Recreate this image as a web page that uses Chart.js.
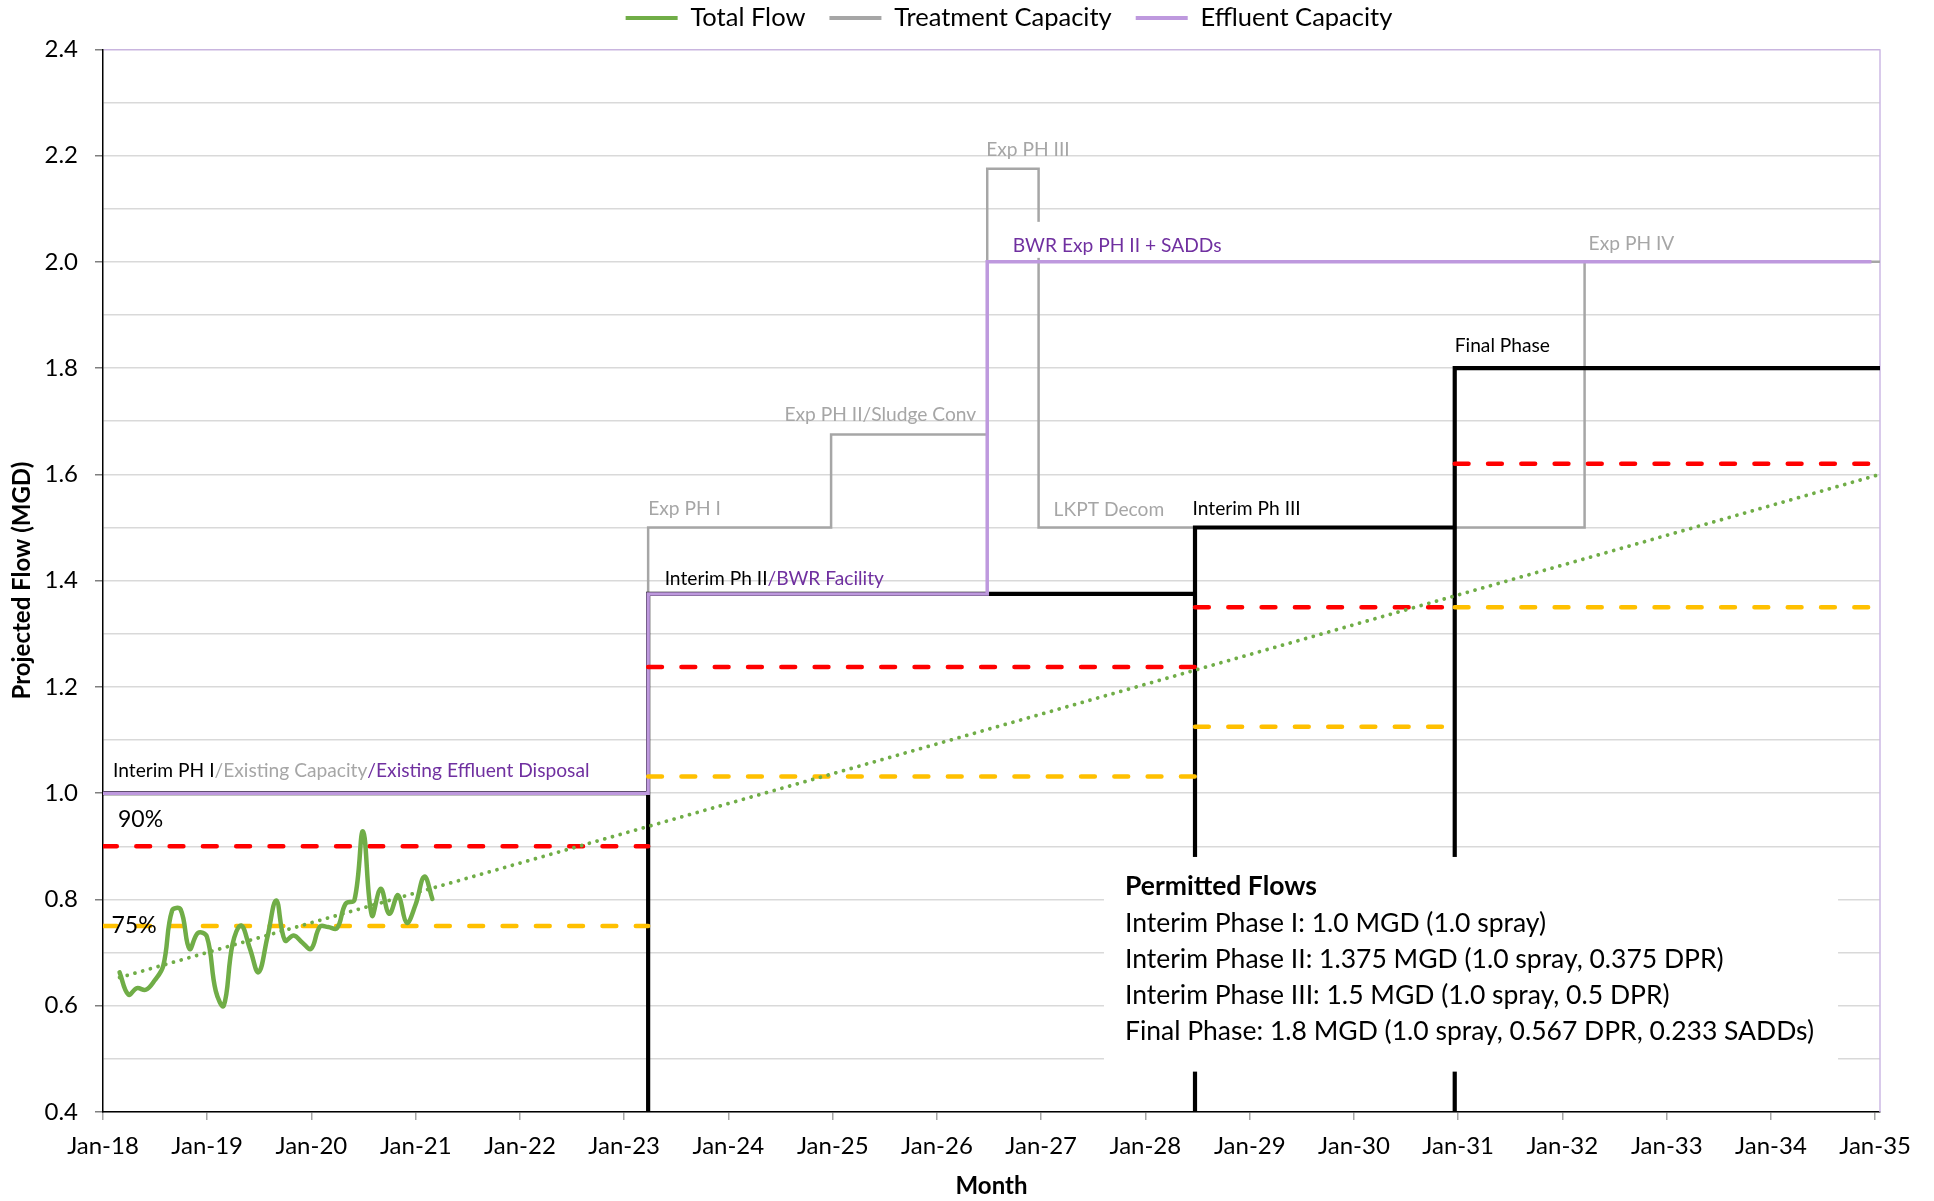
<!DOCTYPE html>
<html lang="en">
<head>
<meta charset="utf-8">
<title>Projected Flow (MGD)</title>
<script src="https://cdn.jsdelivr.net/npm/chart.js@4.4.1/dist/chart.umd.min.js"></script>
<style>
  html, body { margin: 0; padding: 0; background: #ffffff; }
  #frame { width: 1934px; height: 1201px; }
  canvas { display: block; }
</style>
</head>
<body>
<div id="frame"><canvas id="flowChart" width="1934" height="1201"></canvas></div>
<script>
// ---------------- Data ----------------

// Monthly total flow (MGD), month-end readings
const flowDates = [
  '2018-02-28', '2018-03-31', '2018-04-30', '2018-05-31', '2018-06-30', '2018-07-31',
  '2018-08-31', '2018-09-30', '2018-10-31', '2018-11-30', '2018-12-31',
  '2019-01-31', '2019-02-28', '2019-03-31', '2019-04-30', '2019-05-31', '2019-06-30',
  '2019-07-31', '2019-08-31', '2019-09-30', '2019-10-31', '2019-11-30', '2019-12-31',
  '2020-01-31', '2020-02-29', '2020-03-31', '2020-04-30', '2020-05-31', '2020-06-30',
  '2020-07-31', '2020-08-31', '2020-09-30', '2020-10-31', '2020-11-30', '2020-12-31',
  '2021-01-31', '2021-02-28'
];
const flowMGD = [
  0.663, 0.621, 0.633, 0.630, 0.647, 0.675,
  0.779, 0.781, 0.707, 0.737, 0.730,
  0.628, 0.600, 0.716, 0.751, 0.707, 0.663,
  0.729, 0.798, 0.723, 0.732, 0.719, 0.707,
  0.749, 0.748, 0.746, 0.792, 0.799, 0.928,
  0.770, 0.820, 0.773, 0.808, 0.756, 0.790,
  0.843, 0.801
];

// Linear trend of total flow, carried to the end of the planning horizon
const trendDates = ['2018-02-28', '2035-01-18'];
const trendMGD = [0.653, 1.600];

// Permit phases: phase boundaries and permitted flow per phase
const phaseDates = ['2018-01-01', '2023-03-26', '2028-06-23', '2030-12-20', '2035-01-18'];
const permittedMGD = [1.0, 1.375, 1.5, 1.8];
const ninetyPctMGD = [0.9, 1.2375, 1.35, 1.62];
const seventyFivePctMGD = [0.75, 1.03125, 1.125, 1.35];

// Treatment capacity: level holds from each date to the next
const treatmentDates = ['2018-01-01', '2023-03-26', '2024-12-26', '2026-06-26', '2026-12-23', '2032-03-19', '2035-01-18'];
const treatmentMGD = [1.0, 1.5, 1.675, 2.175, 1.5, 2.0, 2.0];

// Effluent disposal capacity
const effluentDates = ['2018-01-01', '2023-03-26', '2026-06-26', '2034-12-19'];
const effluentMGD = [1.0, 1.375, 2.0, 2.0];

// Axis
const xTickLabels = ['Jan-18', 'Jan-19', 'Jan-20', 'Jan-21', 'Jan-22', 'Jan-23', 'Jan-24', 'Jan-25', 'Jan-26',
                     'Jan-27', 'Jan-28', 'Jan-29', 'Jan-30', 'Jan-31', 'Jan-32', 'Jan-33', 'Jan-34', 'Jan-35'];
const axisStart = '2018-01-01';
const axisEnd = '2035-01-18';
const yMin = 0.4;
const yMax = 2.4;

// ---------------- Helpers ----------------
const DAY_MS = 86400000;
const BASE_MS = Date.UTC(2018, 0, 1);
function dayOf(iso) {
  const [yy, mm, dd] = iso.split('-').map(Number);
  return (Date.UTC(yy, mm - 1, dd) - BASE_MS) / DAY_MS;
}
function tickDay(label) {
  return dayOf('20' + label.slice(4) + '-01-01');
}
const pairs = (dates, values) => dates.map((d, i) => ({ x: dayOf(d), y: values[i] }));

// Permitted flow: each new phase rises from the axis floor
function permittedPath() {
  const pts = [{ x: dayOf(phaseDates[0]), y: permittedMGD[0] }];
  for (let i = 1; i < permittedMGD.length; i++) {
    pts.push({ x: dayOf(phaseDates[i]), y: yMin });
    pts.push({ x: dayOf(phaseDates[i]), y: permittedMGD[i] });
  }
  pts.push({ x: dayOf(phaseDates[phaseDates.length - 1]), y: permittedMGD[permittedMGD.length - 1] });
  return pts;
}
// Percent-of-permit bands: one separate segment per phase
function bandPath(levels) {
  const pts = [];
  levels.forEach((v, i) => {
    pts.push({ x: dayOf(phaseDates[i]), y: v }, { x: dayOf(phaseDates[i + 1]), y: v });
    if (i < levels.length - 1) pts.push({ x: dayOf(phaseDates[i + 1]), y: null });
  });
  return pts;
}

// ---------------- Styling ----------------
const FONT = "Lato, 'Open Sans', 'DejaVu Sans', sans-serif";
const INK = '#000000';
const GRAY = '#a6a6a6';
const LILAC = '#be99de';
const PURPLE_TEXT = '#7030a0';
const GREEN = '#70ad47';

// Labels, text box and plot frame drawn on top of the series
const phaseNotes = {
  id: 'phaseNotes',
  beforeDatasetsDraw(chart) {
    const { ctx, chartArea: a } = chart;
    ctx.save();
    ctx.strokeStyle = '#cdb8e4';
    ctx.lineWidth = 1.5;
    ctx.beginPath();
    ctx.moveTo(a.right, a.top);
    ctx.lineTo(a.right, a.bottom);
    ctx.stroke();
    ctx.restore();
  },
  afterDatasetsDraw(chart, args, opts) {
    const { ctx, scales: { x, y } } = chart;
    ctx.save();
    ctx.textBaseline = 'middle';
    ctx.textAlign = 'left';

    const b = opts.box;
    const bx0 = x.getPixelForValue(dayOf(b.from));
    const bx1 = x.getPixelForValue(dayOf(b.to));
    const by0 = y.getPixelForValue(b.top);
    const by1 = y.getPixelForValue(b.bottom);
    ctx.fillStyle = '#ffffff';
    ctx.fillRect(bx0, by0, bx1 - bx0, by1 - by0);
    b.lines.forEach((ln, i) => {
      ctx.font = (i === 0 ? 'bold ' : '') + b.size + 'px ' + FONT;
      ctx.fillStyle = INK;
      ctx.fillText(ln, bx0 + b.padX, by0 + b.firstLine + i * b.lineGap);
    });

    opts.labels.forEach(lb => {
      ctx.font = (lb.size || opts.size) + 'px ' + FONT;
      const px = x.getPixelForValue(dayOf(lb.at)) + lb.dx;
      const py = y.getPixelForValue(lb.level) + lb.dy;
      const widths = lb.parts.map(p => ctx.measureText(p[0]).width);
      const total = widths.reduce((s, w) => s + w, 0);
      let cx = lb.align === 'right' ? px - total : px;
      if (lb.backdrop) {
        ctx.fillStyle = '#ffffff';
        ctx.fillRect(cx - 5, py - 24, total + 10, 36);
      }
      lb.parts.forEach((p, i) => {
        ctx.fillStyle = p[1];
        ctx.fillText(p[0], cx, py);
        cx += widths[i];
      });
    });
    ctx.restore();
  }
};

// Moves the legend row to its final spot after layout
const legendNudge = {
  id: 'legendNudge',
  afterLayout(chart, args, opts) {
    const lg = chart.legend;
    if (!lg) return;
    lg.left += opts.dx; lg.right += opts.dx;
    lg.top += opts.dy; lg.bottom += opts.dy;
  }
};

function build() {
  const ctx = document.getElementById('flowChart').getContext('2d');
  new Chart(ctx, {
    type: 'line',
    data: {
      datasets: [
        {
          label: 'Total Flow',
          data: pairs(flowDates, flowMGD),
          borderColor: GREEN, backgroundColor: GREEN,
          borderWidth: 4.5, tension: 0.4, pointRadius: 0,
          borderCapStyle: 'round', borderJoinStyle: 'round',
          order: 0
        },
        {
          label: 'Treatment Capacity',
          data: pairs(treatmentDates, treatmentMGD),
          borderColor: GRAY, backgroundColor: GRAY,
          borderWidth: 2.5, stepped: 'before', pointRadius: 0,
          borderJoinStyle: 'miter',
          order: 6
        },
        {
          label: 'Effluent Capacity',
          data: pairs(effluentDates, effluentMGD),
          borderColor: LILAC, backgroundColor: LILAC,
          borderWidth: 3.5, stepped: 'before', pointRadius: 0,
          borderJoinStyle: 'miter',
          order: 4
        },
        {
          label: 'Permitted Flow',
          data: permittedPath(),
          borderColor: INK, backgroundColor: INK,
          borderWidth: 4.2, stepped: 'before', pointRadius: 0,
          borderJoinStyle: 'miter',
          order: 5
        },
        {
          label: '90% of Permit',
          data: bandPath(ninetyPctMGD),
          borderColor: '#ff0000', backgroundColor: '#ff0000',
          borderWidth: 4.5, borderDash: [13.8, 19.5], borderCapStyle: 'round',
          pointRadius: 0, spanGaps: false,
          order: 2
        },
        {
          label: '75% of Permit',
          data: bandPath(seventyFivePctMGD),
          borderColor: '#ffc000', backgroundColor: '#ffc000',
          borderWidth: 4.5, borderDash: [13.8, 19.5], borderCapStyle: 'round',
          pointRadius: 0, spanGaps: false,
          order: 3
        },
        {
          label: 'Linear (Total Flow)',
          data: pairs(trendDates, trendMGD),
          borderColor: GREEN, backgroundColor: GREEN,
          borderWidth: 3.8, borderDash: [0.01, 8], borderCapStyle: 'round',
          pointRadius: 0,
          order: 1
        }
      ]
    },
    options: {
      responsive: false,
      animation: false,
      devicePixelRatio: 1,
      events: [],
      layout: { padding: { top: -10.2, right: 54, bottom: 0, left: 0 } },
      scales: {
        x: {
          type: 'linear',
          min: dayOf(axisStart),
          max: dayOf(axisEnd),
          afterBuildTicks: scale => { scale.ticks = xTickLabels.map(l => ({ value: tickDay(l) })); },
          afterFit: scale => { scale.height = 89; scale.paddingLeft = 0; scale.paddingRight = 0; },
          ticks: {
            autoSkip: false, maxRotation: 0, minRotation: 0,
            padding: 11.6,
            font: { family: FONT, size: 24 }, color: INK,
            callback: (v, i) => xTickLabels[i]
          },
          grid: { drawOnChartArea: false, drawTicks: true, tickLength: 8, tickColor: '#a6a6a6', lineWidth: 1.5 },
          border: { display: true, color: INK, width: 1.5 },
          title: {
            display: true, text: 'Month', color: INK,
            font: { family: FONT, size: 24, weight: 'bold' },
            padding: { top: 0, bottom: 0 }
          }
        },
        y: {
          type: 'linear',
          min: yMin, max: yMax,
          afterFit: scale => { scale.width = 103; scale.paddingTop = 0; scale.paddingBottom = 0; },
          ticks: {
            stepSize: 0.1, autoSkip: false, padding: 17,
            font: { family: FONT, size: 24 }, color: INK,
            callback: (v, i) => (i % 2 === 0 ? v.toFixed(1) : '')
          },
          grid: {
            drawTicks: true, tickLength: 8, lineWidth: 1.5,
            color: c => (c.tick && c.tick.value >= yMax - 1e-9 ? '#c9b5df' : '#d9d9d9'),
            tickColor: c => (c.index % 2 === 0 ? '#7f7f7f' : 'rgba(0,0,0,0)')
          },
          border: { display: true, color: INK, width: 1.5 },
          title: {
            display: true, text: 'Projected Flow (MGD)', color: INK,
            font: { family: FONT, size: 24, weight: 'bold' },
            padding: { top: 7.6, bottom: 0 }
          }
        }
      },
      plugins: {
        tooltip: { enabled: false },
        legend: {
          display: true, position: 'top', align: 'center',
          labels: {
            font: { family: FONT, size: 25.5 }, color: INK,
            boxWidth: 52, boxHeight: 4, padding: 24,
            filter: item => item.datasetIndex <= 2,
            sort: (a, b) => a.datasetIndex - b.datasetIndex,
            generateLabels: chart => Chart.defaults.plugins.legend.labels.generateLabels(chart)
              .map(it => Object.assign(it, { lineWidth: 0, fillStyle: it.strokeStyle, lineDash: [] }))
          }
        },
        legendNudge: { dx: 69, dy: -8.5 },
        phaseNotes: {
          size: 19.2,
          box: {
            from: '2027-08-09', to: '2034-08-24', top: 0.88, bottom: 0.476,
            size: 26.5, padX: 21, firstLine: 30, lineGap: 36.2,
            lines: [
              'Permitted Flows',
              'Interim Phase I: 1.0 MGD (1.0 spray)',
              'Interim Phase II: 1.375 MGD (1.0 spray, 0.375 DPR)',
              'Interim Phase III: 1.5 MGD (1.0 spray, 0.5 DPR)',
              'Final Phase: 1.8 MGD (1.0 spray, 0.567 DPR, 0.233 SADDs)'
            ]
          },
          labels: [
            { at: '2018-01-01', level: 1.0, dx: 10, dy: -22,
              parts: [['Interim PH I', INK], ['/Existing Capacity', GRAY], ['/Existing Effluent Disposal', PURPLE_TEXT]] },
            { at: '2018-01-01', level: 0.9, dx: 15, dy: -27, size: 23, parts: [['90%', INK]] },
            { at: '2018-01-01', level: 0.75, dx: 8.5, dy: 0, size: 23, parts: [['75%', INK]] },
            { at: '2023-03-26', level: 1.5, dx: 0, dy: -19, parts: [['Exp PH I', GRAY]] },
            { at: '2023-03-26', level: 1.375, dx: 16.5, dy: -15,
              parts: [['Interim Ph II', INK], ['/BWR Facility', PURPLE_TEXT]] },
            { at: '2026-06-26', level: 1.675, dx: -11, dy: -20, align: 'right', parts: [['Exp PH II/Sludge Conv', GRAY]] },
            { at: '2026-06-26', level: 2.175, dx: -1, dy: -19, parts: [['Exp PH III', GRAY]] },
            { at: '2026-06-26', level: 2.0, dx: 25.6, dy: -16, backdrop: true, parts: [['BWR Exp PH II + SADDs', PURPLE_TEXT]] },
            { at: '2026-12-23', level: 1.5, dx: 15, dy: -18, parts: [['LKPT Decom', GRAY]] },
            { at: '2028-06-23', level: 1.5, dx: -2.5, dy: -19, parts: [['Interim Ph III', INK]] },
            { at: '2030-12-20', level: 1.8, dx: 0, dy: -22, parts: [['Final Phase', INK]] },
            { at: '2032-03-19', level: 2.0, dx: 4, dy: -18, parts: [['Exp PH IV', GRAY]] }
          ]
        }
      }
    },
    plugins: [phaseNotes, legendNudge]
  });
}

const fontJobs = ['400 24px Lato', '700 24px Lato'].map(f => document.fonts.load(f));
Promise.all(fontJobs).then(build, build);
</script>
</body>
</html>
